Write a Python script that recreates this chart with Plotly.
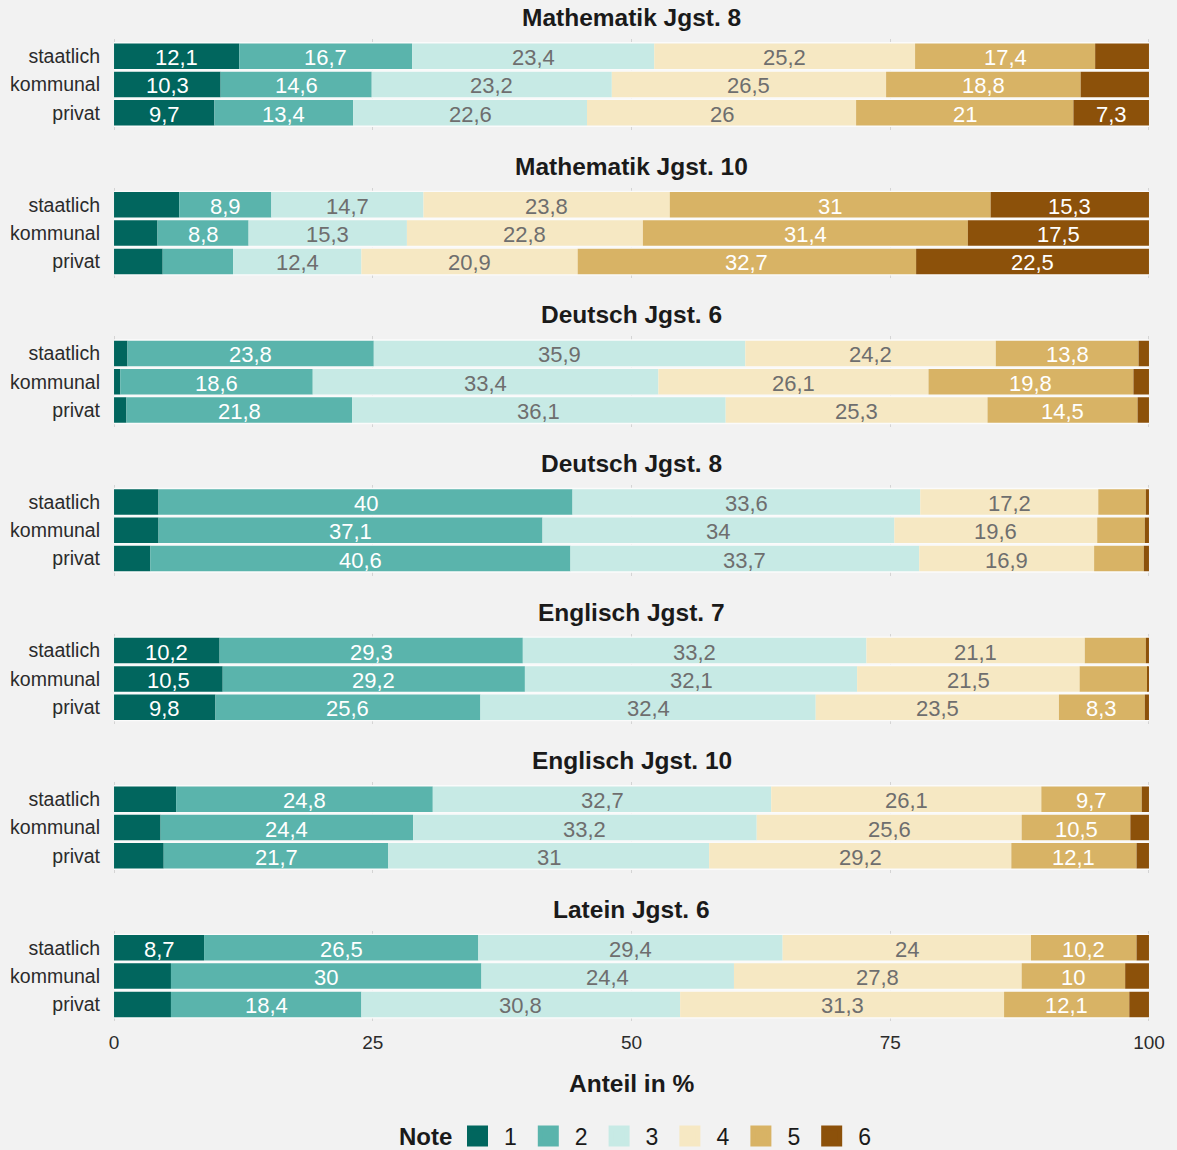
import numpy as np
import plotly.graph_objects as go

# ---------------- data ----------------
panels = ["Mathematik Jgst. 8", "Mathematik Jgst. 10", "Deutsch Jgst. 6",
          "Deutsch Jgst. 8", "Englisch Jgst. 7", "Englisch Jgst. 10", "Latein Jgst. 6"]
schools = ["staatlich", "kommunal", "privat"]
grades = ["1", "2", "3", "4", "5", "6"]

# shares in % per panel: rows = schools, columns = grades 1..6
math8 = [[12.1, 16.7, 23.4, 25.2, 17.4, 5.2],
         [10.3, 14.6, 23.2, 26.5, 18.8, 6.6],
         [9.7, 13.4, 22.6, 26.0, 21.0, 7.3]]
math10 = [[6.3, 8.9, 14.7, 23.8, 31.0, 15.3],
          [4.2, 8.8, 15.3, 22.8, 31.4, 17.5],
          [4.7, 6.8, 12.4, 20.9, 32.7, 22.5]]
deutsch6 = [[1.3, 23.8, 35.9, 24.2, 13.8, 1.0],
            [0.6, 18.6, 33.4, 26.1, 19.8, 1.5],
            [1.2, 21.8, 36.1, 25.3, 14.5, 1.1]]
deutsch8 = [[4.3, 40.0, 33.6, 17.2, 4.6, 0.3],
            [4.3, 37.1, 34.0, 19.6, 4.6, 0.4],
            [3.5, 40.6, 33.7, 16.9, 4.8, 0.5]]
englisch7 = [[10.2, 29.3, 33.2, 21.1, 5.9, 0.3],
             [10.5, 29.2, 32.1, 21.5, 6.6, 0.1],
             [9.8, 25.6, 32.4, 23.5, 8.3, 0.4]]
englisch10 = [[6.0, 24.8, 32.7, 26.1, 9.7, 0.7],
              [4.5, 24.4, 33.2, 25.6, 10.5, 1.8],
              [4.8, 21.7, 31.0, 29.2, 12.1, 1.2]]
latein6 = [[8.7, 26.5, 29.4, 24.0, 10.2, 1.2],
           [5.5, 30.0, 24.4, 27.8, 10.0, 2.3],
           [5.5, 18.4, 30.8, 31.3, 12.1, 1.9]]
panel_values = [math8, math10, deutsch6, deutsch8, englisch7, englisch10, latein6]

x_ticks = [0, 25, 50, 75, 100]
x_ticklabels = ["0", "25", "50", "75", "100"]

# ---------------- style ----------------
colors = ["#01665e", "#5ab4ac", "#c7eae5", "#f6e8c3", "#d8b365", "#8c510a"]
text_colors = ["#ffffff", "#ffffff", "#6e6e6e", "#6e6e6e", "#ffffff", "#ffffff"]
BG = "#f2f2f2"
FONT = "Liberation Sans, Arial, sans-serif"
W, H = 1177, 1150
ML, MR, MT, MB = 113, 27, 39, 128
PW = W - ML - MR
PH = H - MT - MB
PANEL_STEP = 148.6
PANEL_H = 90.6
LABEL_MIN = 7.0


def fmt(v):
    return f"{v:g}".replace(".", ",")


def py(px):
    return 1 - (px - MT) / PH


fig = go.Figure()
n = len(panels)
for k, (title, vals) in enumerate(zip(panels, panel_values)):
    xa = "x" if k == 0 else f"x{k+1}"
    ya = "y" if k == 0 else f"y{k+1}"
    arr = np.array(vals, dtype=float)
    bases = np.cumsum(arr, axis=1) - arr

    # white backdrop band (gives the white gaps between the bars)
    fig.add_trace(go.Bar(x=[100] * len(schools), y=schools, base=[0] * len(schools),
                         orientation="h", width=1.0, marker=dict(color="#fbfbfb", line=dict(width=0)),
                         xaxis=xa, yaxis=ya, showlegend=False, hoverinfo="skip"))
    for g in range(len(grades)):
        fig.add_trace(go.Bar(x=arr[:, g], y=schools, base=bases[:, g], orientation="h",
                             width=0.9, marker=dict(color=colors[g], line=dict(width=0)),
                             name=grades[g], xaxis=xa, yaxis=ya, showlegend=False,
                             hoverinfo="skip"))
    # value labels, centred in each segment
    for i in range(len(schools)):
        for g in range(len(grades)):
            v = arr[i, g]
            if v >= LABEL_MIN:
                fig.add_annotation(x=bases[i, g] + v / 2, y=schools[i], xref=xa, yref=ya,
                                   text=fmt(v), showarrow=False, xanchor="center",
                                   yanchor="middle", yshift=-1.5,
                                   font=dict(size=22, color=text_colors[g], family=FONT))

    top = PANEL_STEP * k + 0.2
    dom = [1 - (top + PANEL_H) / PH, 1 - top / PH]
    dom = [max(0.0, dom[0]), min(1.0, dom[1])]
    fig.layout[("yaxis" if k == 0 else f"yaxis{k+1}")] = dict(
        domain=dom, anchor=xa, type="category", categoryorder="array",
        categoryarray=schools, range=[2.6, -0.6], showgrid=False, zeroline=False,
        showline=False, ticks="", ticklabelstandoff=12,
        tickfont=dict(size=19.5, color="#2b2b2b", family=FONT), fixedrange=True)
    fig.layout[("xaxis" if k == 0 else f"xaxis{k+1}")] = dict(
        domain=[0, 1], anchor=ya, range=[-0.1, 100.1], tickvals=x_ticks, ticktext=x_ticklabels,
        showgrid=True, gridcolor="#d4d4d4", gridwidth=1.3, zeroline=False, showline=False,
        ticks="", showticklabels=(k == n - 1), ticklabelstandoff=8,
        tickfont=dict(size=19, color="#2b2b2b", family=FONT), fixedrange=True)
    fig.add_annotation(text=f"<b>{title}</b>", x=0.5, xref="paper",
                       y=1 - (top - 21.5) / PH, yref="paper", showarrow=False,
                       xanchor="center", yanchor="middle",
                       font=dict(size=24.5, color="#1a1a1a", family=FONT))

# legend entries
for g in range(len(grades)):
    fig.add_trace(go.Scatter(x=[None], y=[None], mode="markers", name=grades[g],
                             marker=dict(symbol="square", size=16, color=colors[g],
                                         line=dict(width=5, color=colors[g])),
                             xaxis="x7", yaxis="y7", showlegend=True, hoverinfo="skip"))

fig.add_annotation(text="<b>Anteil in %</b>", x=0.5, xref="paper",
                   y=py(1083), yref="paper", showarrow=False,
                   xanchor="center", yanchor="middle",
                   font=dict(size=24.5, color="#1a1a1a", family=FONT))
# legend title
fig.add_annotation(text="<b>Note</b>", x=(454 - ML) / PW, xref="paper",
                   y=py(1136), yref="paper", showarrow=False,
                   xanchor="right", yanchor="middle",
                   font=dict(size=24, color="#1a1a1a", family=FONT))

fig.update_layout(
    width=W, height=H, barmode="overlay",
    margin=dict(l=ML, r=MR, t=MT, b=MB, pad=0, autoexpand=False),
    paper_bgcolor=BG, plot_bgcolor=BG,
    font=dict(family=FONT, color="#1a1a1a"),
    legend=dict(orientation="h", x=(451 - ML) / PW, xanchor="left", xref="paper",
                y=py(1136), yanchor="middle", yref="paper",
                font=dict(size=23, color="#1a1a1a", family=FONT),
                bgcolor="rgba(0,0,0,0)", itemwidth=43, tracegroupgap=0),
    showlegend=True,
)

fig.write_html("out.html", config={"displayModeBar": False},
               post_script="document.body.style.margin='0px';document.body.style.padding='0px';"
                           "document.body.style.background='#f2f2f2';")
